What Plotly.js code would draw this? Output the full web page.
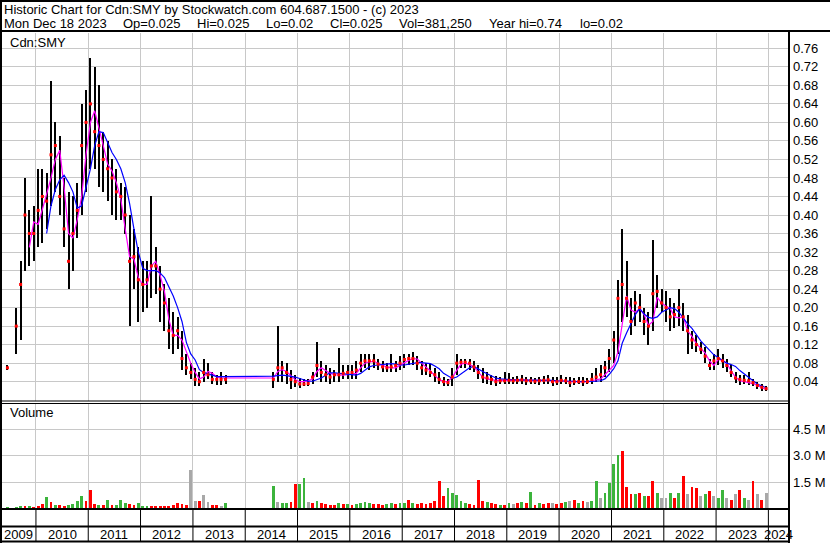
<!DOCTYPE html>
<html><head><meta charset="utf-8">
<script src="https://cdn.plot.ly/plotly-3.0.1.min.js"></script>
<style>html,body{margin:0;padding:0;background:#fff}#chart{width:830px;height:543px}</style>
</head><body><div id="chart"></div>
<script>
// ---- data (monthly) ----
const months = [
 '2009-06','2009-07','2009-08','2009-09','2009-10','2009-11','2009-12',
 '2010-01','2010-02','2010-03','2010-04','2010-05','2010-06','2010-07','2010-08','2010-09','2010-10','2010-11','2010-12',
 '2011-01','2011-02','2011-03','2011-04','2011-05','2011-06','2011-07','2011-08','2011-09','2011-10','2011-11','2011-12',
 '2012-01','2012-02','2012-03','2012-04','2012-05','2012-06','2012-07','2012-08','2012-09','2012-10','2012-11','2012-12',
 '2013-01','2013-02','2013-03','2013-04','2013-05','2013-06','2013-07','2013-08',
 '2014-07','2014-08','2014-09','2014-10','2014-11','2014-12',
 '2015-01','2015-02','2015-03','2015-04','2015-05','2015-06','2015-07','2015-08','2015-09','2015-10','2015-11','2015-12',
 '2016-01','2016-02','2016-03','2016-04','2016-05','2016-06','2016-07','2016-08','2016-09','2016-10','2016-11','2016-12',
 '2017-01','2017-02','2017-03','2017-04','2017-05','2017-06','2017-07','2017-08','2017-09','2017-10','2017-11','2017-12',
 '2018-01','2018-02','2018-03','2018-04','2018-05','2018-06','2018-07','2018-08','2018-09','2018-10','2018-11','2018-12',
 '2019-01','2019-02','2019-03','2019-04','2019-05','2019-06','2019-07','2019-08','2019-09','2019-10','2019-11','2019-12',
 '2020-01','2020-02','2020-03','2020-04','2020-05','2020-06','2020-07','2020-08','2020-09','2020-10','2020-11','2020-12',
 '2021-01','2021-02','2021-03','2021-04','2021-05','2021-06','2021-07','2021-08','2021-09','2021-10','2021-11','2021-12',
 '2022-01','2022-02','2022-03','2022-04','2022-05','2022-06','2022-07','2022-08','2022-09','2022-10','2022-11','2022-12',
 '2023-01','2023-02','2023-03','2023-04','2023-05','2023-06','2023-07','2023-08','2023-09','2023-10','2023-11','2023-12'
];
const high = [
 0.075,null,0.20,0.30,0.48,0.41,0.42,
 0.50,0.50,0.49,0.69,0.60,0.57,0.48,0.45,0.44,0.47,0.64,0.67,
 0.74,0.72,0.68,0.58,0.56,0.52,0.50,0.47,0.46,0.40,0.37,0.33,
 0.30,0.30,0.44,0.33,0.29,0.25,0.22,0.19,0.18,0.15,0.10,0.08,
 0.07,0.06,0.09,0.08,0.06,0.055,0.06,0.055,
 0.06,0.16,0.085,0.08,0.065,0.055,
 0.048,0.045,0.045,0.06,0.126,0.085,0.075,0.07,0.065,0.113,0.075,0.075,
 0.075,0.085,0.10,0.10,0.10,0.10,0.09,0.085,0.08,0.10,0.085,0.095,
 0.10,0.10,0.105,0.095,0.085,0.08,0.078,0.07,0.06,0.05,0.045,0.07,
 0.10,0.09,0.09,0.088,0.085,0.075,0.07,0.06,0.055,0.052,0.05,0.06,
 0.058,0.05,0.052,0.055,0.05,0.05,0.048,0.05,0.052,0.055,0.05,0.05,
 0.055,0.05,0.05,0.048,0.05,0.05,0.048,0.058,0.07,0.075,0.085,0.11,
 0.15,0.26,0.37,0.30,0.22,0.235,0.23,0.20,0.19,0.345,0.27,0.24,
 0.235,0.22,0.21,0.24,0.21,0.185,0.15,0.14,0.125,0.115,0.09,0.10,
 0.11,0.10,0.09,0.075,0.06,0.055,0.055,0.06,0.045,0.04,0.035,0.03
];
const low = [
 0.065,null,0.10,0.13,0.28,0.29,0.30,
 0.33,0.34,0.37,0.42,0.45,0.40,0.33,0.24,0.28,0.35,0.40,0.45,
 0.50,0.50,0.46,0.45,0.43,0.40,0.39,0.39,0.36,0.16,0.24,0.17,
 0.19,0.20,0.22,0.23,0.17,0.15,0.11,0.10,0.11,0.065,0.055,0.045,
 0.03,0.03,0.04,0.045,0.035,0.033,0.033,0.035,
 0.027,0.04,0.04,0.035,0.025,0.028,
 0.027,0.03,0.03,0.035,0.05,0.04,0.04,0.035,0.04,0.04,0.045,0.045,
 0.045,0.045,0.06,0.07,0.065,0.07,0.065,0.06,0.06,0.06,0.06,0.065,
 0.07,0.075,0.075,0.065,0.055,0.055,0.05,0.04,0.035,0.03,0.03,0.03,
 0.055,0.07,0.07,0.065,0.062,0.045,0.038,0.035,0.033,0.03,0.035,0.035,
 0.035,0.035,0.035,0.035,0.033,0.035,0.035,0.033,0.035,0.035,0.03,0.033,
 0.035,0.035,0.028,0.033,0.035,0.03,0.035,0.035,0.04,0.04,0.05,0.06,
 0.08,0.10,0.17,0.18,0.14,0.16,0.17,0.14,0.12,0.15,0.20,0.19,
 0.17,0.15,0.155,0.16,0.15,0.10,0.11,0.105,0.10,0.08,0.065,0.065,
 0.075,0.07,0.06,0.05,0.038,0.033,0.035,0.033,0.03,0.025,0.02,0.02
];
const close = [
 0.07,null,0.16,0.25,0.40,0.36,0.36,
 0.41,0.44,0.43,0.53,0.55,0.44,0.37,0.30,0.36,0.41,0.55,0.60,
 0.64,0.58,0.55,0.52,0.50,0.48,0.45,0.44,0.40,0.30,0.31,0.26,
 0.25,0.26,0.29,0.29,0.24,0.21,0.15,0.14,0.15,0.09,0.07,0.06,
 0.045,0.04,0.06,0.055,0.045,0.045,0.045,0.045,
 0.045,0.07,0.07,0.06,0.045,0.04,
 0.035,0.035,0.036,0.05,0.075,0.06,0.055,0.05,0.055,0.055,0.058,0.06,
 0.06,0.065,0.08,0.085,0.085,0.085,0.078,0.072,0.07,0.072,0.075,0.08,
 0.088,0.09,0.09,0.08,0.07,0.065,0.06,0.055,0.045,0.04,0.038,0.05,
 0.08,0.082,0.082,0.08,0.072,0.06,0.05,0.048,0.045,0.04,0.042,0.042,
 0.043,0.042,0.043,0.044,0.042,0.042,0.041,0.042,0.043,0.044,0.04,0.04,
 0.043,0.042,0.038,0.04,0.04,0.04,0.04,0.045,0.05,0.055,0.07,0.09,
 0.13,0.22,0.25,0.22,0.17,0.21,0.20,0.17,0.16,0.23,0.235,0.21,
 0.20,0.18,0.185,0.20,0.18,0.15,0.13,0.12,0.11,0.095,0.075,0.085,
 0.09,0.085,0.075,0.06,0.048,0.045,0.043,0.042,0.038,0.032,0.028,0.025
];
const maShort = [
 null,null,null,null,null,0.33,0.385,
 0.38,0.41,0.445,0.48,0.52,0.54,0.46,0.36,0.35,0.39,0.44,0.53,
 0.60,0.625,0.59,0.55,0.51,0.495,0.47,0.435,0.37,0.31,0.305,0.265,
 0.25,0.25,0.29,0.30,0.27,0.235,0.175,0.14,0.14,0.13,0.105,0.08,
 0.06,0.046,0.05,0.062,0.058,0.05,0.048,0.048,
 0.048,0.062,0.066,0.062,0.052,0.044,
 0.04,0.04,0.042,0.046,0.062,0.07,0.064,0.058,0.055,0.054,0.054,0.055,
 0.056,0.058,0.07,0.08,0.083,0.084,0.08,0.075,0.072,0.07,0.07,0.076,
 0.082,0.086,0.09,0.089,0.08,0.072,0.063,0.053,0.045,0.04,0.04,0.05,
 0.065,0.078,0.08,0.077,0.072,0.062,0.05,0.046,0.044,0.043,0.043,0.043,
 0.043,0.043,0.043,0.044,0.043,0.042,0.042,0.042,0.043,0.043,0.042,0.041,
 0.042,0.041,0.04,0.04,0.04,0.04,0.04,0.042,0.044,0.046,0.055,0.065,
 0.075,0.105,0.16,0.225,0.195,0.19,0.198,0.185,0.162,0.17,0.222,0.21,
 0.203,0.198,0.18,0.178,0.18,0.15,0.138,0.122,0.112,0.102,0.085,0.075,
 0.088,0.086,0.08,0.063,0.05,0.042,0.04,0.038,0.036,0.032,0.027,0.023
];
const maLong = [
 null,null,null,null,null,null,null,
 null,null,0.36,0.42,0.455,0.476,0.486,0.47,0.45,0.415,0.42,0.46,
 0.50,0.55,0.58,0.578,0.555,0.535,0.52,0.50,0.47,0.425,0.37,0.32,
 0.285,0.28,0.28,0.28,0.275,0.265,0.245,0.225,0.20,0.17,0.125,0.10,
 0.087,0.066,0.06,0.057,0.054,0.051,0.051,0.051,
 0.052,0.053,0.054,0.053,0.052,0.05,
 0.047,0.044,0.041,0.041,0.044,0.048,0.054,0.059,0.059,0.058,0.058,0.056,
 0.055,0.054,0.058,0.066,0.072,0.075,0.076,0.077,0.078,0.079,0.078,0.076,
 0.076,0.078,0.08,0.081,0.081,0.08,0.079,0.074,0.068,0.058,0.052,0.047,
 0.05,0.057,0.064,0.07,0.073,0.067,0.062,0.057,0.052,0.048,0.046,0.045,
 0.044,0.044,0.044,0.044,0.043,0.043,0.043,0.043,0.043,0.043,0.043,0.042,
 0.042,0.042,0.041,0.041,0.04,0.04,0.04,0.04,0.041,0.042,0.046,0.056,
 0.068,0.085,0.123,0.145,0.165,0.185,0.198,0.186,0.179,0.177,0.18,0.19,
 0.195,0.20,0.198,0.19,0.178,0.165,0.155,0.142,0.128,0.118,0.108,0.098,
 0.092,0.086,0.08,0.077,0.073,0.064,0.056,0.05,0.042,0.035,0.031,0.027
];
// weekly-scale volume in millions of shares
const volume = [
 0.10,0.05,0.08,0.12,0.12,0.15,0.10,
 0.15,0.25,0.67,0.35,0.20,0.20,0.15,0.20,0.25,0.45,0.70,0.40,
 1.05,0.25,0.20,0.20,0.48,0.20,0.20,0.50,0.30,0.25,0.20,0.30,
 0.12,0.15,0.15,0.12,0.12,0.15,0.15,0.20,0.30,0.25,0.20,2.17,
 0.45,0.40,0.75,0.35,0.20,0.20,0.15,0.30,
 1.30,0.35,0.30,0.30,0.35,1.37,
 1.40,1.74,0.35,0.30,0.40,0.30,0.25,0.20,0.20,0.30,0.25,0.25,
 0.20,0.25,0.30,0.35,0.30,0.25,0.25,0.20,0.25,0.30,0.25,0.30,
 0.30,0.50,0.30,0.25,0.30,0.25,0.30,0.40,1.55,0.70,1.14,0.90,
 0.76,0.45,0.30,0.25,0.20,1.60,0.45,0.35,0.30,0.25,0.20,0.20,
 0.30,0.25,0.30,0.35,0.30,0.95,0.20,0.30,0.25,0.30,0.30,0.25,
 0.30,0.35,0.45,0.50,0.30,0.40,0.35,0.45,1.55,0.60,0.90,1.42,
 2.55,3.02,3.25,1.23,0.80,0.80,0.90,0.70,0.70,1.55,0.90,0.60,
 0.60,0.86,0.60,0.86,1.84,0.80,1.23,1.14,0.70,0.80,1.00,0.70,
 0.60,1.07,0.60,0.50,0.80,1.04,0.60,0.50,1.55,0.80,0.50,0.86
];
// g = up, r = down, n = unchanged
const volDir = [
 'g','n','g','g','r','g','r',
 'r','r','g','r','g','r','r','g','g','g','g','r',
 'r','r','g','r','g','r','g','g','g','r','r','g',
 'g','g','r','r','r','r','r','r','r','r','r','n',
 'n','r','n','n','r','r','n','g',
 'g','n','g','g','r','r',
 'g','g','n','r','g','r','r','r','r','g','r','g',
 'r','g','g','g','g','r','r','r','g','g','r','g',
 'g','r','g','r','r','r','r','r','r','r','g','g',
 'g','g','g','r','r','r','r','g','r','r','g','r',
 'g','n','r','g','r','g','r','g','r','r','n','r',
 'r','g','n','r','g','r','n','g','g','n','g','g',
 'g','g','r','r','r','g','r','g','r','r','g','n',
 'n','g','r','g','r','n','r','r','n','g','r','n',
 'g','g','n','r','n','r','g','n','r','n','r','n'
];
const yearLabels = ['2009','2010','2011','2012','2013','2014','2015','2016','2017','2018','2019','2020','2021','2022','2023','2024'];
const priceTicks = [0.04,0.08,0.12,0.16,0.20,0.24,0.28,0.32,0.36,0.40,0.44,0.48,0.52,0.56,0.60,0.64,0.68,0.72,0.76];
const volTicks = [1.5,3.0,4.5];
const volTickText = ['1.5 M','3.0 M','4.5 M'];
const header1 = 'Historic Chart for Cdn:SMY by Stockwatch.com 604.687.1500 - (c) 2023';
const header2Fields = ['Mon Dec 18 2023','Op=0.025','Hi=0.025','Lo=0.02','Cl=0.025','Vol=381,250','Year hi=0.74','lo=0.02'];

// ---- layout constants ----
const W = 830, H = 543;
const FONT = 'Liberation Sans, Arial, Helvetica, sans-serif';
const X_RANGE = ['2009-05-09', '2024-05-17'];
const DAY = 86400000;
const px = x => x / W;
const py = y => 1 - y / H;
const GRID = '#c8c8c8';
const dirColor = {g: '#3cb43c', r: '#ff0000', n: '#a8a8a8'};
const HEADER2_X = [2, 121, 195, 264, 328, 397, 487, 578];

const yearStarts = yearLabels.slice(1).map(y => y + '-01-01');
const rs = new Date(X_RANGE[0]).getTime(), re = new Date(X_RANGE[1]).getTime();
const yearMids = yearLabels.map(y => {
  const a = Math.max(rs, Date.UTC(+y, 0, 1)), b = Math.min(re, Date.UTC(+y + 1, 0, 1));
  return new Date((a + b) / 2).toISOString().slice(0, 10);
});

const period = {xperiod: 'M1', xperiodalignment: 'middle'};
const traces = [
  Object.assign({type: 'bar', x: months, y: high.map((h, i) => h == null ? null : h - low[i]), base: low,
    width: 14 * DAY, marker: {color: '#000000', line: {width: 0}}, hoverinfo: 'skip', xaxis: 'x', yaxis: 'y'}, period),
  Object.assign({type: 'scatter', mode: 'lines', x: months, y: maShort,
    line: {color: '#ff00ff', width: 1.2}, hoverinfo: 'skip', xaxis: 'x', yaxis: 'y'}, period),
  Object.assign({type: 'scatter', mode: 'lines', x: months, y: maLong,
    line: {color: '#0000ff', width: 1.2}, hoverinfo: 'skip', xaxis: 'x', yaxis: 'y'}, period),
  Object.assign({type: 'scatter', mode: 'markers', x: months, y: close,
    marker: {symbol: 'square', size: 3, color: '#ff0000', line: {width: 0}}, hoverinfo: 'skip', xaxis: 'x', yaxis: 'y'}, period),
  Object.assign({type: 'bar', x: months, y: volume, width: 20 * DAY,
    marker: {color: volDir.map(d => dirColor[d]), line: {width: 0}}, hoverinfo: 'skip', xaxis: 'x2', yaxis: 'y2'}, period)
];

const xCommon = {type: 'date', domain: [px(2), px(788)], range: X_RANGE, tickvals: yearStarts,
  showticklabels: false, ticks: '', showgrid: true, gridcolor: GRID, gridwidth: 1, zeroline: false, showline: false, fixedrange: true};
const tickFont = {family: FONT, size: 13, color: '#000'};

const lineShape = (x0, y0, x1, y1, w, extra) => Object.assign({type: 'line', xref: 'paper', yref: 'paper',
  x0: px(x0), y0: py(y0), x1: px(x1), y1: py(y1), line: {color: '#000', width: w}, layer: 'above'}, extra || {});

const shapes = [
  lineShape(0, 1, 830, 1, 2),
  lineShape(0, 31, 830, 31, 2),
  lineShape(1, 0, 1, 543, 2),
  lineShape(789, 31, 789, 543, 2),
  lineShape(0, 401, 789, 401, 1),
  lineShape(0, 403.5, 789, 403.5, 1),
  lineShape(0, 509, 789, 509, 2),
  lineShape(0, 526.5, 789, 526.5, 2),
  lineShape(0, 541.5, 789, 541.5, 2)
].concat(yearStarts.map(d => ({type: 'line', xref: 'x', yref: 'paper', x0: d, x1: d, y0: py(509), y1: py(541),
  line: {color: '#000', width: 1}, layer: 'above'})));

const ann = (text, x, y, size, extra) => Object.assign({text: text, xref: 'paper', yref: 'paper', x: px(x), y: py(y),
  xanchor: 'left', yanchor: 'middle', showarrow: false, font: {family: FONT, size: size, color: '#000'}}, extra || {});
const nb = s => s.replace(/ /g, '\u00a0');
const annotations = [
  ann(nb(header1), 2, 9.5, 13),
  ann('Cdn:SMY', 8, 42, 13),
  ann('Volume', 8, 413, 13)
].concat(header2Fields.map((t, i) => ann(nb(t), HEADER2_X[i], 23, 13)))
 .concat(yearLabels.map((t, i) => ({text: t, xref: 'x', yref: 'paper', x: yearMids[i], y: py(534),
  xanchor: 'center', yanchor: 'middle', showarrow: false, font: {family: FONT, size: 13, color: '#000'}})));

const layout = {
  width: W, height: H, margin: {l: 0, r: 0, t: 0, b: 0, pad: 0},
  paper_bgcolor: '#fff', plot_bgcolor: '#fff', showlegend: false, barmode: 'overlay', bargap: 0,
  font: {family: FONT, size: 13, color: '#000'},
  xaxis: Object.assign({anchor: 'y'}, xCommon),
  xaxis2: Object.assign({anchor: 'y2', matches: 'x'}, xCommon),
  yaxis: {domain: [py(401), py(33)], range: [-0.0017, 0.7931], side: 'right', anchor: 'x',
    tickvals: priceTicks, ticktext: priceTicks.map(v => v.toFixed(2)), ticks: '', ticklabelstandoff: 4,
    tickfont: tickFont, showgrid: true, gridcolor: GRID, gridwidth: 1, zeroline: false, showline: false, automargin: false, fixedrange: true},
  yaxis2: {domain: [py(508.5), py(403.5)], range: [0, 5.96], side: 'right', anchor: 'x2',
    tickvals: volTicks, ticktext: volTickText, ticks: '', ticklabelstandoff: 4,
    tickfont: tickFont, showgrid: true, gridcolor: GRID, gridwidth: 1, zeroline: false, showline: false, automargin: false, fixedrange: true},
  shapes: shapes,
  annotations: annotations
};

Plotly.newPlot('chart', traces, layout, {displayModeBar: false, staticPlot: true});
</script>
</body></html>
